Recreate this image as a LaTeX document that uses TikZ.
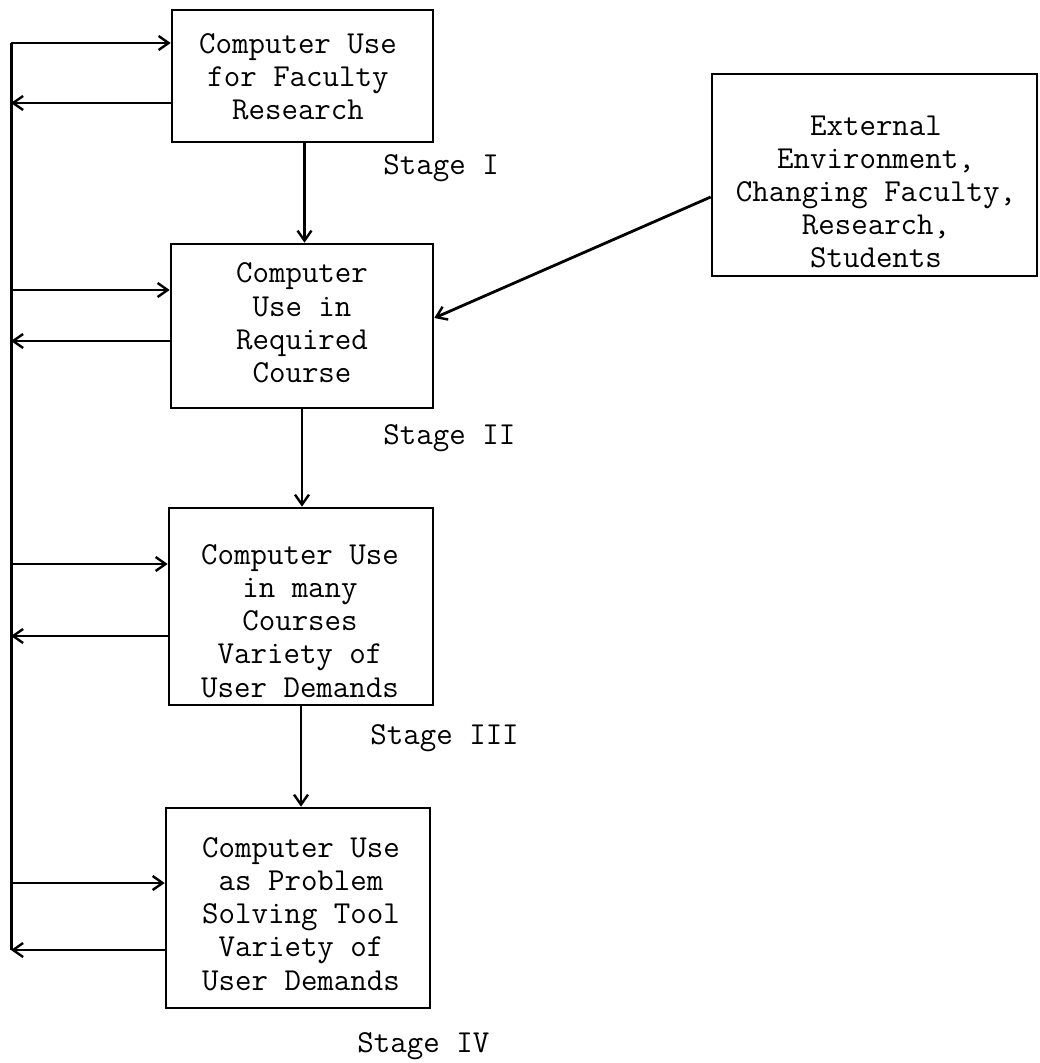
\documentclass[tikz,border=0pt]{standalone}
\usetikzlibrary{arrows.meta}
\begin{document}
\begin{tikzpicture}[x=0.5pt,y=-0.5pt,
  line/.style={line width=1.5pt},
  arr/.style={line width=1.4pt,-{Straight Barb[length=5pt,width=7pt,line width=1.2pt]}},
  box/.style={draw,line width=1.3pt,inner sep=0pt},
  typed/.style={font=\ttfamily\fontsize{16}{16.6}\selectfont,align=center,inner sep=0pt},
  stagelbl/.style={font=\ttfamily\fontsize{16}{16.6}\selectfont,anchor=west,inner sep=0pt}]
\useasboundingbox (0,0) rectangle (1039,1063);

% stage boxes
\node[box,minimum width=130.5pt,minimum height=66pt] (b1) at (302.5,76) {};
\node[box,minimum width=131pt,minimum height=82pt] (b2) at (302,326) {};
\node[box,minimum width=132pt,minimum height=98.5pt] (b3) at (301,606.5) {};
\node[box,minimum width=132pt,minimum height=100pt] (b4) at (298,908) {};
\node[box,minimum width=162.5pt,minimum height=101pt] (ext) at (874.5,175) {};

% box texts
\node[typed] (t1) at (298,77) {Computer Use\\ for Faculty\\Research};
\node[typed] (t2) at (302,323) {Computer\\Use in\\Required\\Course};
\node[typed] (t3) at (300,621) {Computer Use\\in many\\Courses\\Variety of\\User Demands};
\node[typed] (t4) at (301,914) {Computer Use\\as Problem\\Solving Tool\\Variety of\\User Demands};
\node[typed] (te) at (876,192) {External\\Environment,\\Changing Faculty,\\Research,\\Students};

% stage labels
\node[stagelbl] (s1) at (383,168) {Stage I};
\node[stagelbl] (s2) at (383,438) {Stage II};
\node[stagelbl] (s3) at (370,738) {Stage III};
\node[stagelbl] (s4) at (357,1046) {Stage IV};

% feedback bus on the left
\coordinate (top) at (11,43);
\coordinate (bot) at (11,950);
\draw[line] (top) -- (bot);

\coordinate (o1) at (11,103);
\coordinate (i2) at (11,290);
\coordinate (o2) at (11,341);
\coordinate (i3) at (11,564);
\coordinate (o3) at (11,636);
\coordinate (i4) at (11,883);

\draw[arr] (top) -- (top -| b1.west);
\draw[arr] (o1 -| b1.west) -- (o1);
\draw[arr] (i2) -- (i2 -| b2.west);
\draw[arr] (o2 -| b2.west) -- (o2);
\draw[arr] (i3) -- (i3 -| b3.west);
\draw[arr] (o3 -| b3.west) -- (o3);
\draw[arr] (i4) -- (i4 -| b4.west);
\draw[arr] (bot -| b4.west) -- (bot);

% stage progression
\draw[arr] ([xshift=1pt]b1.south) -- ([xshift=1pt]b1.south |- b2.north);
\draw[arr] (b2.south) -- (b2.south |- b3.north);
\draw[arr] (b3.south) -- (b3.south |- b4.north);

% external influence
\draw[arr] ([yshift=-11pt]ext.west) -- ([yshift=4pt]b2.east);
\end{tikzpicture}
\end{document}
